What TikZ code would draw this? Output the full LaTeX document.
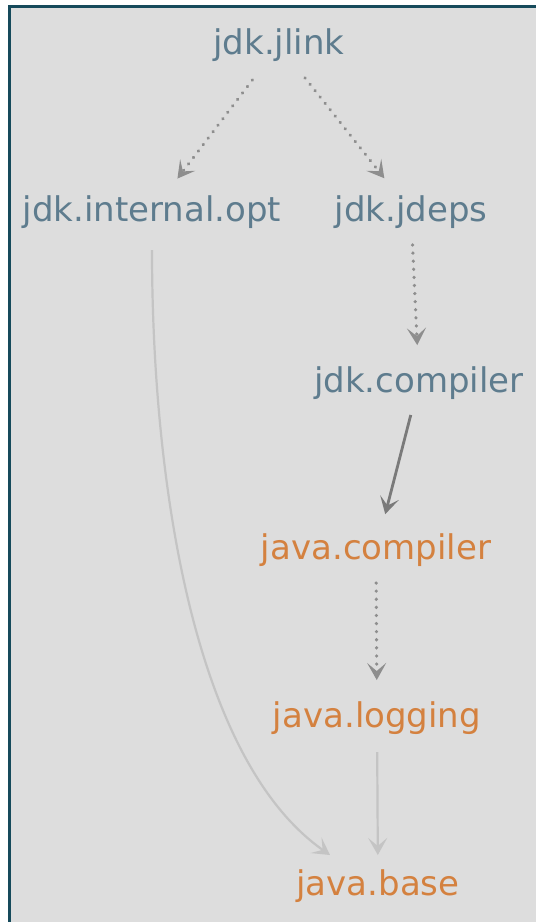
\documentclass[tikz,border=0pt]{standalone}
\usepackage{fontspec}
\setmainfont{DejaVu Sans}
\usetikzlibrary{arrows.meta}
\definecolor{panelbg}{HTML}{DDDDDD}
\definecolor{panelframe}{HTML}{164A5B}
\definecolor{jdkmod}{HTML}{5E7C8E}
\definecolor{javamod}{HTML}{D4813F}
\definecolor{dotgray}{HTML}{8E8E8E}
\definecolor{darkgray}{HTML}{7A7A7A}
\definecolor{lightgray}{HTML}{C4C4C4}
\tikzset{
  x=1pt, y=1pt,
  modlabel/.style={inner sep=0pt, font=\fontsize{34}{40}\selectfont},
  jdkmodule/.style={modlabel, text=jdkmod},
  javamodule/.style={modlabel, text=javamod},
  tip/.style={-{Stealth[length=17pt, width=19pt, inset=8pt]}},
  qualified/.style={tip, draw=dotgray, line width=3.5pt,
    dash pattern=on 0.1pt off 8pt, line cap=round},
  requires/.style={tip, draw=darkgray, line width=2.8pt},
  implied/.style={tip, draw=lightgray, line width=2.2pt},
}
\begin{document}
\begin{tikzpicture}
  \useasboundingbox (0,0) rectangle (536,-922);
  % panel with a frame on its top and left sides
  \begin{scope}
    \clip (0,0) rectangle (536,-922);
    \draw[fill=panelbg, draw=panelframe, line width=3pt] (9,-6) rectangle (548,-935);
  \end{scope}

  % modules
  \node[jdkmodule]  (jlink) at (279,-45)  {jdk.jlink};
  \node[jdkmodule]  (iopt)  at (152,-212) {jdk.internal.opt};
  \node[jdkmodule]  (jdeps) at (411,-212) {jdk.jdeps};
  \node[jdkmodule]  (jdkc)  at (419,-383) {jdk.compiler};
  \node[javamodule] (jcomp) at (376,-550) {java.compiler};
  \node[javamodule] (jlog)  at (377,-718) {java.logging};
  \node[javamodule] (jbase) at (378,-886) {java.base};

  % dependencies
  \draw[qualified, shorten <=44pt, shorten >=42pt] (jlink.center) -- (iopt.center);
  \draw[qualified, shorten <=42pt, shorten >=43pt] (jlink.center) -- (jdeps.center);
  \draw[qualified, shorten <=33pt, shorten >=38pt] (jdeps.center) -- (jdkc.center);
  \draw[requires,  shorten <=33pt, shorten >=37pt] (jdkc.center)  -- (jcomp.center);
  \draw[qualified, shorten <=33pt, shorten >=38pt] (jcomp.center) -- (jlog.center);
  \draw[implied,   shorten <=34pt, shorten >=31pt] (jlog.center)  -- (jbase.center);
  \draw[implied] ([yshift=-38pt]iopt.center)
    .. controls (152,-470) and (190,-757) .. ([shift={(-48,31)}]jbase.center);
\end{tikzpicture}
\end{document}
